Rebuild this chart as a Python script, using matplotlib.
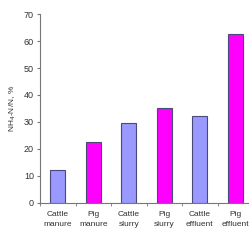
import matplotlib
matplotlib.use("Agg")
import matplotlib.pyplot as plt
from matplotlib.ticker import FixedLocator

# values
categories = ["Cattle\nmanure", "Pig\nmanure", "Cattle\nslurry", "Pig\nslurry", "Cattle\neffluent", "Pig\neffluent"]
values = [12.2, 22.7, 29.7, 35.0, 32.2, 62.5]
bar_colors = ["#9999ff", "#ff00ff", "#9999ff", "#ff00ff", "#9999ff", "#ff00ff"]
yticks = [0, 10, 20, 30, 40, 50, 60, 70]

plt.rcParams["font.family"] = ["Liberation Sans Narrow", "Liberation Sans", "DejaVu Sans"]

fig = plt.figure(figsize=(2.49, 2.46), dpi=100)
ax = fig.add_axes([0.161, 0.175, 0.855, 0.768])
x = range(len(categories))
ax.bar(x, values, width=0.42, color=bar_colors, edgecolor="#4a4a7a", linewidth=0.8, zorder=2)

ax.set_xlim(-0.5, len(categories) - 0.5)
ax.set_ylim(0, 70)
ax.set_yticks(yticks)
ax.set_xticks(list(x))
ax.set_xticklabels(categories, fontsize=6, color="#333333", linespacing=1.5)
ax.xaxis.set_minor_locator(FixedLocator([i + 0.5 for i in range(-1, len(categories))]))
ax.tick_params(axis="x", which="major", length=0, pad=6)
ax.tick_params(axis="x", which="minor", length=2.5, color="#777777", direction="out")
ax.tick_params(axis="y", labelsize=6.5, labelcolor="#333333", length=2.5, color="#777777", pad=2)
ax.set_ylabel("NH$_4$-N/N, %", fontsize=6, color="#333333", labelpad=4)

for side in ("top", "right"):
    ax.spines[side].set_visible(False)
for side in ("left", "bottom"):
    ax.spines[side].set_color("#777777")
    ax.spines[side].set_linewidth(0.8)

fig.savefig("out.png", dpi=100)
